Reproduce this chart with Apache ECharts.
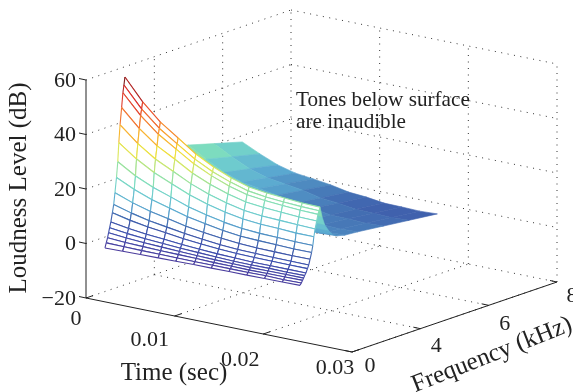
<!DOCTYPE html>
<html><head><meta charset="utf-8">
<style>html,body{margin:0;padding:0;background:#fff}#c{width:573px;height:392px}</style>
<script src="https://cdn.jsdelivr.net/npm/echarts@6/dist/echarts.min.js"></script>
</head><body><div id="c"></div>
<script>
// ---- data ----
var timeValues = [0,0.002,0.004,0.006,0.008,0.01,0.012,0.014,0.016,0.018,0.02,0.022];
// frequency positions along the axis: 0..8 spans the axis, ticks sit at thirds
var wireFreqPos = [0.74,0.79,0.84,0.88,0.92,0.97,1.03,1.08,1.13,1.19,1.24,1.28,1.33,1.39,1.44,1.48,1.52];
var solidFreqPos = [1.52,1.6,1.7,1.85,2.0,2.2,2.5,3,4,5,6.1];
var wireLevels = [
[-4,-3.9,-3.8,-3.7,-3.6,-3.5,-3.5,-3.4,-3.4,-3.3,-3.3,-3.2],
[-2.3,-2.4,-2.5,-2.5,-2.6,-2.6,-2.6,-2.6,-2.6,-2.5,-2.6,-2.5],
[-0.6,-1,-1.2,-1.4,-1.5,-1.6,-1.8,-1.8,-1.9,-1.8,-1.8,-1.7],
[1.1,0.5,0.1,-0.2,-0.5,-0.7,-0.9,-1,-1.1,-1,-1,-1],
[2.8,2,1.4,1,0.6,0.3,0,-0.2,-0.3,-0.2,-0.3,-0.2],
[4.8,3.7,2.9,2.4,1.8,1.4,1,0.8,0.6,0.6,0.6,0.6],
[8,6.5,5.4,4.6,3.7,3.1,2.6,2.3,2.1,2.1,2,2],
[10.8,9,7.5,6.5,5.5,4.7,4,3.6,3.4,3.3,3.2,3.2],
[15,12.6,10.8,9.4,8,7,6.2,5.6,5.3,5.2,5.1,5.1],
[20.4,17.3,14.9,13.1,11.3,10,8.9,8.1,7.8,7.6,7.4,7.4],
[26,22.1,19.2,17,14.7,13.1,11.7,10.8,10.3,10.1,9.9,9.8],
[32.9,28.2,24.5,21.7,19,16.9,15.3,14.1,13.5,13.3,12.9,12.9],
[39.3,33.7,29.3,26.1,22.9,20.4,18.5,17.1,16.4,16.1,15.8,15.6],
[45.4,39,34,30.4,26.6,23.8,21.6,20,19.3,18.9,18.5,18.3],
[50.7,43.6,38.1,34,29.9,26.8,24.3,22.5,21.7,21.2,20.8,20.6],
[53.4,45.9,40.1,35.8,31.5,28.2,25.7,23.8,22.9,22.4,22,21.8],
[56.2,48.4,42.3,37.8,33.2,29.8,27.1,25.1,24.2,23.7,23.2,23]
];
var solidLevels = [
[56.2,48.4,42.3,37.8,33.2,29.8,27.1,25.1,24.2,23.7,23.2,23],
[48,41.2,35.7,31.7,28,25.2,22.8,21.2,20.2,19.8,19.3,19.2],
[41,34.9,30,26.5,23.6,21.3,19.1,17.8,16.7,16.4,16,16],
[35.2,29.8,25.2,22.2,20,18.1,16.1,14.9,13.8,13.5,13.2,13.4],
[31.1,26.1,21.9,19.1,17.4,15.8,14,13,11.8,11.6,11.2,11.5],
[28.5,23.8,19.8,17.2,15.7,14.3,12.6,11.7,10.5,10.3,10,10.3],
[27,22.5,18.6,16.1,14.8,13.5,11.8,11,9.8,9.6,9.3,9.6],
[25.9,21.6,17.8,15.4,14.2,12.9,11.2,10.5,9.3,9.1,8.9,9.2],
[23.3,19.4,15.9,13.7,12.6,11.5,9.9,9.3,8.2,8.1,7.8,8.1],
[20.6,17.1,14,12,11.1,10.1,8.6,8,7.05,6.9,6.7,7],
[17.7,14.6,11.9,10.2,9.4,8.5,7.2,6.7,5.8,5.7,5.5,5.8]
];
var timeTicks = [0,0.01,0.02,0.03];
var timeTickLabels = ['0','0.01','0.02','0.03'];
var freqTickPos = [0,8/3,16/3,8];
var freqTickLabels = ['0','4','6','8'];
var levelTicks = [-20,0,20,40,60];
var levelTickLabels = ['\u221220','0','20','40','60'];
var colorStops = [[-4,'#4a3a9c'],[2,'#3c50ae'],[5,'#3d55a8'],[8,'#4472b4'],[12,'#5aa8d0'],[16,'#6cc8d0'],[20,'#7cdcc0'],[24,'#98e2a0'],[29,'#d8e860'],[33,'#f5dc30'],[38,'#f9a030'],[44,'#ee6030'],[50,'#d92b2b'],[56,'#6b1a1a']];

// ---- view of the box ----
function P(t,f,z){
  var a=t/0.03,b=f/8,c=(z+20)/80;
  return [86+266*a+205*b, 298+54*a-70*b-218*c];
}
function hex(s){return [parseInt(s.substr(1,2),16),parseInt(s.substr(3,2),16),parseInt(s.substr(5,2),16)];}
function zColor(z){
  var s=colorStops;
  if(z<=s[0][0])return s[0][1];
  for(var i=1;i<s.length;i++){
    if(z<=s[i][0]){
      var u=(z-s[i-1][0])/(s[i][0]-s[i-1][0]),a=hex(s[i-1][1]),b=hex(s[i][1]);
      return 'rgb('+[0,1,2].map(function(k){return Math.round(a[k]+(b[k]-a[k])*u);}).join(',')+')';
    }
  }
  return s[s.length-1][1];
}
// ---- build drawing lists ----
var T0=0,T1=0.03,F1=8,Z0=-20,Z1=60;
var dotted=[];
function seg(a,b){dotted.push([a,b]);}
levelTicks.forEach(function(z){ if(z>Z0){ seg(P(0,0,z),P(0,F1,z)); seg(P(0,F1,z),P(T1,F1,z)); } });
freqTickPos.forEach(function(f){ if(f>0){ seg(P(T0,f,Z0),P(T0,f,Z1)); seg(P(T0,f,Z0),P(T1,f,Z0)); } });
timeTicks.forEach(function(t){ if(t>0){ seg(P(t,F1,Z0),P(t,F1,Z1)); seg(P(t,0,Z0),P(t,F1,Z0)); } });
seg(P(0,0,Z0),P(0,F1,Z0));

var solidQuads=[];
for(var r=solidFreqPos.length-2;r>=0;r--){
  for(var i=0;i<timeValues.length-1;i++){
    var q=[[i,r],[i+1,r],[i+1,r+1],[i,r+1]];
    var pts=q.map(function(a){return P(timeValues[a[0]],solidFreqPos[a[1]],solidLevels[a[1]][a[0]]);});
    var zm=q.reduce(function(s,a){return s+solidLevels[a[1]][a[0]];},0)/4;
    solidQuads.push({pts:pts,color:zColor(zm)});
  }
}
var wireQuads=[];
for(var r2=wireFreqPos.length-2;r2>=0;r2--){
  for(var j=0;j<timeValues.length-1;j++){
    (function(r,j){
      var p=function(a,b){return P(timeValues[a],wireFreqPos[b],wireLevels[b][a]);};
      var z=function(a,b){return wireLevels[b][a];};
      var c=function(a,b,c2,d){return zColor((z(a,b)+z(c2,d))/2);};
      wireQuads.push({pts:[p(j,r),p(j+1,r),p(j+1,r+1),p(j,r+1)],
        edges:[[p(j,r),p(j+1,r),c(j,r,j+1,r)],[p(j+1,r),p(j+1,r+1),c(j+1,r,j+1,r+1)],
               [p(j+1,r+1),p(j,r+1),c(j+1,r+1,j,r+1)],[p(j,r+1),p(j,r),c(j,r+1,j,r)]]});
    })(r2,j);
  }
}
var solidAxis=[[P(0,0,Z0),P(0,0,Z1)],[P(0,0,Z0),P(T1,0,Z0)],[P(T1,0,Z0),P(T1,F1,Z0)]];
levelTicks.forEach(function(z){var a=P(0,0,z);solidAxis.push([a,[a[0]-7,a[1]-1.5]]);});
timeTicks.forEach(function(t){var a=P(t,0,Z0);solidAxis.push([a,[a[0]+7,a[1]-2.4]]);});
freqTickPos.forEach(function(f){var a=P(T1,f,Z0);solidAxis.push([a,[a[0]-7,a[1]-1.5]]);});

var font='"Liberation Serif","Times New Roman",serif';
var texts=[];
function tx(s,x,y,opt){opt=opt||{};texts.push({s:s,x:x,y:y,align:opt.align||'center',rot:opt.rot||0,size:opt.size||22});}
levelTicks.forEach(function(z,i){var a=P(0,0,z);tx(levelTickLabels[i],a[0]-10,a[1]+1,{align:'right'});});
var timeOffX=[-10,-25,-23,-17], timeOffY=[21,24,26,16];
timeTicks.forEach(function(t,i){var a=P(t,0,Z0);tx(timeTickLabels[i],a[0]+timeOffX[i],a[1]+timeOffY[i]);});
var freqOffX=[18,16,16,15], freqOffY=[14,18,19,14];
freqTickPos.forEach(function(f,i){var a=P(T1,f,Z0);tx(freqTickLabels[i],a[0]+freqOffX[i],a[1]+freqOffY[i]);});
tx('Loudness Level (dB)',19,188,{rot:90,size:25});
tx('Time (sec)',174,373,{size:25});
tx('Frequency (kHz)',492,355,{rot:21.5,size:25});
tx('Tones below surface',296,100,{align:'left',size:21.2});
tx('are inaudible',296,122,{align:'left',size:21.2});

function layer(list,fn){
  return {type:'custom',coordinateSystem:'cartesian2d',silent:true,animation:false,clip:false,
    data:list.map(function(_,i){return [i];}),
    renderItem:function(params,api){return fn(list[api.value(0)],api);}};
}
function C(api,pts){return pts.map(function(p){return api.coord(p);});}

var option={
  animation:false,backgroundColor:'#fff',
  grid:{left:0,right:0,top:0,bottom:0},
  xAxis:{type:'value',min:0,max:573,show:false},
  yAxis:{type:'value',min:0,max:392,inverse:true,show:false},
  series:[
    layer(dotted,function(s,api){return {type:'polyline',shape:{points:C(api,s)},style:{fill:null,stroke:'#333',lineWidth:1,lineDash:[1,5.5]}};}),
    layer(solidQuads,function(q,api){return {type:'polygon',shape:{points:C(api,q.pts)},style:{fill:q.color,stroke:q.color,lineWidth:0.6}};}),
    layer(wireQuads,function(q,api){
      return {type:'group',children:[{type:'polygon',shape:{points:C(api,q.pts)},style:{fill:'#fff',stroke:null}}].concat(
        q.edges.map(function(e){return {type:'polyline',shape:{points:C(api,[e[0],e[1]])},style:{fill:null,stroke:e[2],lineWidth:1.1}};}))};
    }),
    layer(solidAxis,function(s,api){return {type:'polyline',shape:{points:C(api,s)},style:{fill:null,stroke:'#222',lineWidth:1}};}),
    layer(texts,function(t,api){var c=api.coord([t.x,t.y]);
      return {type:'text',x:c[0],y:c[1],rotation:t.rot*Math.PI/180,
        style:{text:t.s,fill:'#222',font:t.size+'px '+font,align:t.align,verticalAlign:'middle'}};})
  ]
};
echarts.init(document.getElementById('c'),null,{renderer:'canvas'}).setOption(option);
</script></body></html>
